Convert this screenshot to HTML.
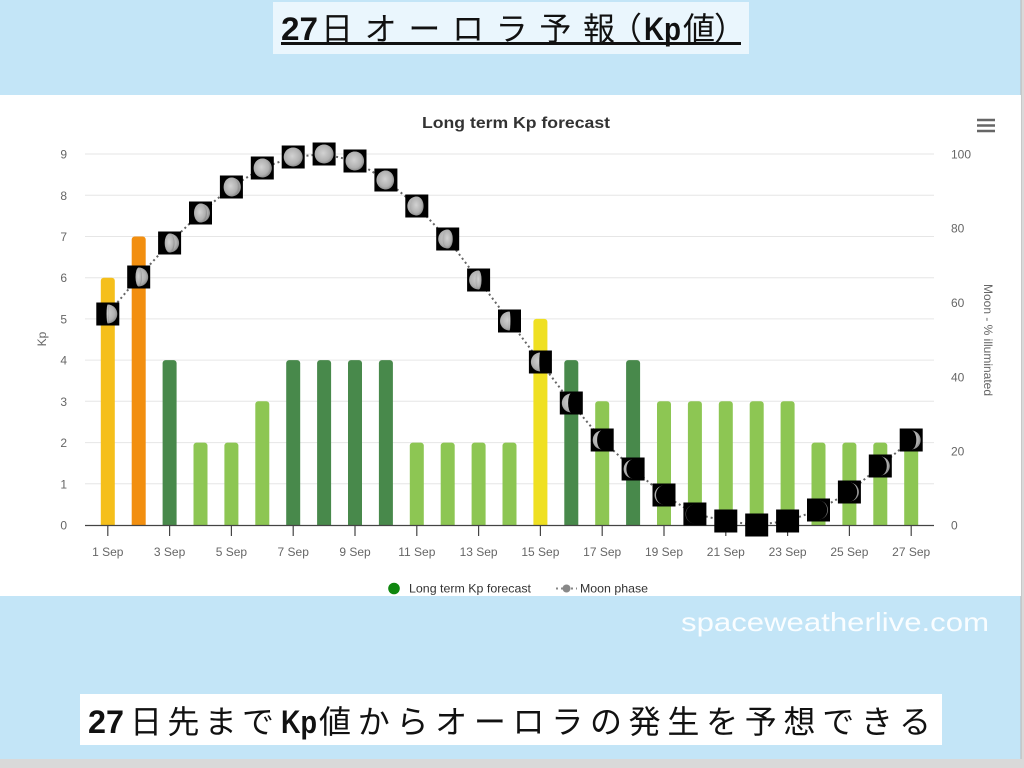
<!DOCTYPE html>
<html><head><meta charset="utf-8"><style>
html,body{margin:0;padding:0;background:#d9d9d9;}
svg{display:block;}
</style></head><body>
<svg width="1024" height="768" viewBox="0 0 1024 768" xmlns="http://www.w3.org/2000/svg">
<defs>
<radialGradient id="mg" cx="0.45" cy="0.45" r="0.6">
<stop offset="0" stop-color="#d2d2d2"/><stop offset="0.7" stop-color="#b0b0b0"/><stop offset="1" stop-color="#808080"/>
</radialGradient>
<clipPath id="pc"><rect x="0" y="0" width="1024" height="525"/></clipPath>
</defs>
<rect x="0" y="0" width="1021" height="759" fill="#c3e5f7"/>
<line x1="1021" y1="0" x2="1021" y2="759" stroke="#b8b8b8" stroke-width="1"/>
<!-- title box -->
<rect x="273" y="2" width="476" height="52" fill="#eaf6fd"/>
<g font-family="'Liberation Sans','Noto Sans CJK JP',sans-serif" font-size="32" fill="#111">
<text x="281" y="40" font-weight="bold" textLength="37" lengthAdjust="spacingAndGlyphs">27</text>
<text x="321" y="40" textLength="294" lengthAdjust="spacing">日オーロラ予報</text>
<text x="610" y="40">（</text>
<text x="644" y="40" font-weight="bold" textLength="37" lengthAdjust="spacingAndGlyphs">Kp</text>
<text x="683" y="40">値</text>
<text x="714" y="40">）</text>
</g>
<line x1="281" y1="43.5" x2="741" y2="43.5" stroke="#111" stroke-width="3"/>
<!-- white panel -->
<rect x="0" y="95" width="1021" height="501" fill="#ffffff"/>
<!-- chart title -->
<text x="516" y="128" text-anchor="middle" font-family="'Liberation Sans',sans-serif" font-size="16" font-weight="bold" fill="#333" textLength="188" lengthAdjust="spacingAndGlyphs">Long term Kp forecast</text>
<!-- hamburger -->
<g stroke="#666" stroke-width="2.6"><line x1="977" y1="120" x2="995" y2="120"/><line x1="977" y1="125.5" x2="995" y2="125.5"/><line x1="977" y1="131" x2="995" y2="131"/></g>
<!-- gridlines -->
<g stroke="#e6e6e6" stroke-width="1">
<line x1="85" y1="483.8" x2="934" y2="483.8"/>
<line x1="85" y1="442.6" x2="934" y2="442.6"/>
<line x1="85" y1="401.3" x2="934" y2="401.3"/>
<line x1="85" y1="360.1" x2="934" y2="360.1"/>
<line x1="85" y1="318.9" x2="934" y2="318.9"/>
<line x1="85" y1="277.7" x2="934" y2="277.7"/>
<line x1="85" y1="236.5" x2="934" y2="236.5"/>
<line x1="85" y1="195.3" x2="934" y2="195.3"/>
<line x1="85" y1="154" x2="934" y2="154"/>
</g>
<!-- bars -->
<g clip-path="url(#pc)">
<rect x="100.8" y="277.7" width="14" height="252" rx="3" fill="#f5bf1b"/>
<rect x="131.7" y="236.5" width="14" height="293" rx="3" fill="#f28f10"/>
<rect x="162.6" y="360.1" width="14" height="170" rx="3" fill="#48894b"/>
<rect x="193.5" y="442.6" width="14" height="87" rx="3" fill="#8dc653"/>
<rect x="224.4" y="442.6" width="14" height="87" rx="3" fill="#8dc653"/>
<rect x="255.3" y="401.3" width="14" height="128" rx="3" fill="#8dc653"/>
<rect x="286.2" y="360.1" width="14" height="170" rx="3" fill="#48894b"/>
<rect x="317.1" y="360.1" width="14" height="170" rx="3" fill="#48894b"/>
<rect x="348.0" y="360.1" width="14" height="170" rx="3" fill="#48894b"/>
<rect x="378.9" y="360.1" width="14" height="170" rx="3" fill="#48894b"/>
<rect x="409.8" y="442.6" width="14" height="87" rx="3" fill="#8dc653"/>
<rect x="440.7" y="442.6" width="14" height="87" rx="3" fill="#8dc653"/>
<rect x="471.6" y="442.6" width="14" height="87" rx="3" fill="#8dc653"/>
<rect x="502.5" y="442.6" width="14" height="87" rx="3" fill="#8dc653"/>
<rect x="533.4" y="318.9" width="14" height="211" rx="3" fill="#efe022"/>
<rect x="564.3" y="360.1" width="14" height="170" rx="3" fill="#48894b"/>
<rect x="595.2" y="401.3" width="14" height="128" rx="3" fill="#8dc653"/>
<rect x="626.1" y="360.1" width="14" height="170" rx="3" fill="#48894b"/>
<rect x="657.0" y="401.3" width="14" height="128" rx="3" fill="#8dc653"/>
<rect x="687.9" y="401.3" width="14" height="128" rx="3" fill="#8dc653"/>
<rect x="718.8" y="401.3" width="14" height="128" rx="3" fill="#8dc653"/>
<rect x="749.7" y="401.3" width="14" height="128" rx="3" fill="#8dc653"/>
<rect x="780.6" y="401.3" width="14" height="128" rx="3" fill="#8dc653"/>
<rect x="811.5" y="442.6" width="14" height="87" rx="3" fill="#8dc653"/>
<rect x="842.4" y="442.6" width="14" height="87" rx="3" fill="#8dc653"/>
<rect x="873.3" y="442.6" width="14" height="87" rx="3" fill="#8dc653"/>
<rect x="904.2" y="442.6" width="14" height="87" rx="3" fill="#8dc653"/>
</g>
<!-- x axis -->
<line x1="85" y1="525.5" x2="934" y2="525.5" stroke="#444" stroke-width="1.2"/>
<g stroke="#444" stroke-width="1.2">
<line x1="107.8" y1="525" x2="107.8" y2="536"/>
<line x1="169.6" y1="525" x2="169.6" y2="536"/>
<line x1="231.4" y1="525" x2="231.4" y2="536"/>
<line x1="293.2" y1="525" x2="293.2" y2="536"/>
<line x1="355.0" y1="525" x2="355.0" y2="536"/>
<line x1="416.8" y1="525" x2="416.8" y2="536"/>
<line x1="478.6" y1="525" x2="478.6" y2="536"/>
<line x1="540.4" y1="525" x2="540.4" y2="536"/>
<line x1="602.2" y1="525" x2="602.2" y2="536"/>
<line x1="664.0" y1="525" x2="664.0" y2="536"/>
<line x1="725.8" y1="525" x2="725.8" y2="536"/>
<line x1="787.6" y1="525" x2="787.6" y2="536"/>
<line x1="849.4" y1="525" x2="849.4" y2="536"/>
<line x1="911.2" y1="525" x2="911.2" y2="536"/>
</g>
<g font-family="'Liberation Sans',sans-serif" font-size="12" fill="#666" text-anchor="middle">
<text x="107.8" y="556">1 Sep</text>
<text x="169.6" y="556">3 Sep</text>
<text x="231.4" y="556">5 Sep</text>
<text x="293.2" y="556">7 Sep</text>
<text x="355.0" y="556">9 Sep</text>
<text x="416.8" y="556">11 Sep</text>
<text x="478.6" y="556">13 Sep</text>
<text x="540.4" y="556">15 Sep</text>
<text x="602.2" y="556">17 Sep</text>
<text x="664.0" y="556">19 Sep</text>
<text x="725.8" y="556">21 Sep</text>
<text x="787.6" y="556">23 Sep</text>
<text x="849.4" y="556">25 Sep</text>
<text x="911.2" y="556">27 Sep</text>
</g>
<!-- left axis labels -->
<g font-family="'Liberation Sans',sans-serif" font-size="12" fill="#666" text-anchor="end">
<text x="67" y="529.5">0</text>
<text x="67" y="488.3">1</text>
<text x="67" y="447.1">2</text>
<text x="67" y="405.8">3</text>
<text x="67" y="364.6">4</text>
<text x="67" y="323.4">5</text>
<text x="67" y="282.2">6</text>
<text x="67" y="241">7</text>
<text x="67" y="199.8">8</text>
<text x="67" y="158.5">9</text>
</g>
<text transform="translate(46,339) rotate(-90)" text-anchor="middle" font-family="'Liberation Sans',sans-serif" font-size="12" fill="#666">Kp</text>
<!-- right axis labels -->
<g font-family="'Liberation Sans',sans-serif" font-size="12" fill="#666" text-anchor="start">
<text x="951" y="529.5">0</text>
<text x="951" y="455.5">20</text>
<text x="951" y="381.3">40</text>
<text x="951" y="307.1">60</text>
<text x="951" y="232.7">80</text>
<text x="951" y="158.5">100</text>
</g>
<text transform="translate(984,340) rotate(90)" text-anchor="middle" font-family="'Liberation Sans',sans-serif" font-size="12" fill="#666">Moon - % illuminated</text>
<!-- moon dotted line -->
<polyline fill="none" stroke="#666" stroke-width="2" stroke-dasharray="2,3" points="107.8,314 138.7,277 169.6,243 200.5,213 231.4,187 262.3,168 293.2,157 324.1,154 355.0,161 385.9,180 416.8,206 447.7,239 478.6,280 509.5,321 540.4,362 571.3,403 602.2,440 633.1,469 664.0,495 694.9,514 725.8,521 756.7,525 787.6,521 818.5,510 849.4,492 880.3,466 911.2,440"/>
<!-- moons -->
<g stroke="none">
<g transform="translate(107.8,314)"><rect x="-11.5" y="-11.5" width="23" height="23" fill="#000"/><circle r="9.5" fill="url(#mg)"/><rect x="-10" y="-10" width="10" height="20" fill="#000"/><ellipse rx="1.3" ry="9.5" fill="url(#mg)"/></g>
<g transform="translate(138.7,277)"><rect x="-11.5" y="-11.5" width="23" height="23" fill="#000"/><circle r="9.5" fill="url(#mg)"/><rect x="-10" y="-10" width="10" height="20" fill="#000"/><ellipse rx="3.2" ry="9.5" fill="url(#mg)"/></g>
<g transform="translate(169.6,243)"><rect x="-11.5" y="-11.5" width="23" height="23" fill="#000"/><circle r="9.5" fill="url(#mg)"/><rect x="-10" y="-10" width="10" height="20" fill="#000"/><ellipse rx="4.9" ry="9.5" fill="url(#mg)"/></g>
<g transform="translate(200.5,213)"><rect x="-11.5" y="-11.5" width="23" height="23" fill="#000"/><circle r="9.5" fill="url(#mg)"/><rect x="-10" y="-10" width="10" height="20" fill="#000"/><ellipse rx="6.5" ry="9.5" fill="url(#mg)"/></g>
<g transform="translate(231.4,187)"><rect x="-11.5" y="-11.5" width="23" height="23" fill="#000"/><circle r="9.5" fill="url(#mg)"/><rect x="-10" y="-10" width="10" height="20" fill="#000"/><ellipse rx="7.8" ry="9.5" fill="url(#mg)"/></g>
<g transform="translate(262.3,168)"><rect x="-11.5" y="-11.5" width="23" height="23" fill="#000"/><circle r="9.5" fill="url(#mg)"/><rect x="-10" y="-10" width="10" height="20" fill="#000"/><ellipse rx="8.7" ry="9.5" fill="url(#mg)"/></g>
<g transform="translate(293.2,157)"><rect x="-11.5" y="-11.5" width="23" height="23" fill="#000"/><circle r="9.5" fill="url(#mg)"/></g>
<g transform="translate(324.1,154)"><rect x="-11.5" y="-11.5" width="23" height="23" fill="#000"/><circle r="9.5" fill="url(#mg)"/></g>
<g transform="translate(355.0,161)"><rect x="-11.5" y="-11.5" width="23" height="23" fill="#000"/><circle r="9.5" fill="url(#mg)"/><rect x="0" y="-10" width="10" height="20" fill="#000"/><ellipse rx="9.1" ry="9.5" fill="url(#mg)"/></g>
<g transform="translate(385.9,180)"><rect x="-11.5" y="-11.5" width="23" height="23" fill="#000"/><circle r="9.5" fill="url(#mg)"/><rect x="0" y="-10" width="10" height="20" fill="#000"/><ellipse rx="8.2" ry="9.5" fill="url(#mg)"/></g>
<g transform="translate(416.8,206)"><rect x="-11.5" y="-11.5" width="23" height="23" fill="#000"/><circle r="9.5" fill="url(#mg)"/><rect x="0" y="-10" width="10" height="20" fill="#000"/><ellipse rx="6.8" ry="9.5" fill="url(#mg)"/></g>
<g transform="translate(447.7,239)"><rect x="-11.5" y="-11.5" width="23" height="23" fill="#000"/><circle r="9.5" fill="url(#mg)"/><rect x="0" y="-10" width="10" height="20" fill="#000"/><ellipse rx="5.1" ry="9.5" fill="url(#mg)"/></g>
<g transform="translate(478.6,280)"><rect x="-11.5" y="-11.5" width="23" height="23" fill="#000"/><circle r="9.5" fill="url(#mg)"/><rect x="0" y="-10" width="10" height="20" fill="#000"/><ellipse rx="3.0" ry="9.5" fill="url(#mg)"/></g>
<g transform="translate(509.5,321)"><rect x="-11.5" y="-11.5" width="23" height="23" fill="#000"/><circle r="9.5" fill="url(#mg)"/><rect x="0" y="-10" width="10" height="20" fill="#000"/><ellipse rx="1.0" ry="9.5" fill="url(#mg)"/></g>
<g transform="translate(540.4,362)"><rect x="-11.5" y="-11.5" width="23" height="23" fill="#000"/><circle r="9.5" fill="url(#mg)"/><rect x="0" y="-10" width="10" height="20" fill="#000"/><ellipse rx="1.1" ry="9.6" fill="#000"/></g>
<g transform="translate(571.3,403)"><rect x="-11.5" y="-11.5" width="23" height="23" fill="#000"/><circle r="9.5" fill="url(#mg)"/><rect x="0" y="-10" width="10" height="20" fill="#000"/><ellipse rx="3.2" ry="9.6" fill="#000"/></g>
<g transform="translate(602.2,440)"><rect x="-11.5" y="-11.5" width="23" height="23" fill="#000"/><circle r="9.5" fill="url(#mg)"/><rect x="0" y="-10" width="10" height="20" fill="#000"/><ellipse rx="5.1" ry="9.6" fill="#000"/></g>
<g transform="translate(633.1,469)"><rect x="-11.5" y="-11.5" width="23" height="23" fill="#000"/><circle r="9.5" fill="url(#mg)"/><rect x="0" y="-10" width="10" height="20" fill="#000"/><ellipse rx="6.7" ry="9.6" fill="#000"/></g>
<g transform="translate(664.0,495)"><rect x="-11.5" y="-11.5" width="23" height="23" fill="#000"/><circle r="9.5" fill="url(#mg)"/><rect x="0" y="-10" width="10" height="20" fill="#000"/><ellipse rx="8.0" ry="9.6" fill="#000"/></g>
<g transform="translate(694.9,514)"><rect x="-11.5" y="-11.5" width="23" height="23" fill="#000"/><circle r="9.5" fill="#555"/><rect x="0" y="-10" width="10" height="20" fill="#000"/><ellipse rx="8.9" ry="9.6" fill="#000"/></g>
<g transform="translate(725.8,521)"><rect x="-11.5" y="-11.5" width="23" height="23" fill="#000"/></g>
<g transform="translate(756.7,525)"><rect x="-11.5" y="-11.5" width="23" height="23" fill="#000"/></g>
<g transform="translate(787.6,521)"><rect x="-11.5" y="-11.5" width="23" height="23" fill="#000"/></g>
<g transform="translate(818.5,510)"><rect x="-11.5" y="-11.5" width="23" height="23" fill="#000"/><circle r="9.5" fill="#777"/><rect x="-10" y="-10" width="10" height="20" fill="#000"/><ellipse rx="8.7" ry="9.6" fill="#000"/></g>
<g transform="translate(849.4,492)"><rect x="-11.5" y="-11.5" width="23" height="23" fill="#000"/><circle r="9.5" fill="url(#mg)"/><rect x="-10" y="-10" width="10" height="20" fill="#000"/><ellipse rx="7.8" ry="9.6" fill="#000"/></g>
<g transform="translate(880.3,466)"><rect x="-11.5" y="-11.5" width="23" height="23" fill="#000"/><circle r="9.5" fill="url(#mg)"/><rect x="-10" y="-10" width="10" height="20" fill="#000"/><ellipse rx="6.5" ry="9.6" fill="#000"/></g>
<g transform="translate(911.2,440)"><rect x="-11.5" y="-11.5" width="23" height="23" fill="#000"/><circle r="9.5" fill="url(#mg)"/><rect x="-10" y="-10" width="10" height="20" fill="#000"/><ellipse rx="5.1" ry="9.6" fill="#000"/></g>
</g>
<!-- legend -->
<circle cx="394" cy="588.5" r="5.8" fill="#0f870f"/>
<text x="409" y="592.5" font-family="'Liberation Sans',sans-serif" font-size="12" fill="#333" textLength="122" lengthAdjust="spacingAndGlyphs">Long term Kp forecast</text>
<line x1="556" y1="588.5" x2="577" y2="588.5" stroke="#888" stroke-width="2" stroke-dasharray="2,3"/>
<circle cx="566.5" cy="588.5" r="4" fill="#888"/>
<text x="580" y="592.5" font-family="'Liberation Sans',sans-serif" font-size="12" fill="#333" textLength="68" lengthAdjust="spacingAndGlyphs">Moon phase</text>
<!-- watermark -->
<text x="681" y="631" font-family="'Liberation Sans',sans-serif" font-size="26" fill="#ffffff" fill-opacity="0.9" textLength="308" lengthAdjust="spacingAndGlyphs">spaceweatherlive.com</text>
<!-- bottom caption -->
<rect x="80" y="694" width="862" height="51" fill="#ffffff"/>
<g font-family="'Liberation Sans','Noto Sans CJK JP',sans-serif" font-size="32" fill="#111">
<text x="88" y="733" font-weight="bold" textLength="36" lengthAdjust="spacingAndGlyphs">27</text>
<text x="130" y="733" textLength="144" lengthAdjust="spacing">日先まで</text>
<text x="281" y="733" font-weight="bold" textLength="36" lengthAdjust="spacingAndGlyphs">Kp</text>
<text x="319" y="733" textLength="612" lengthAdjust="spacing">値からオーロラの発生を予想できる</text>
</g>
</svg>
</body></html>
